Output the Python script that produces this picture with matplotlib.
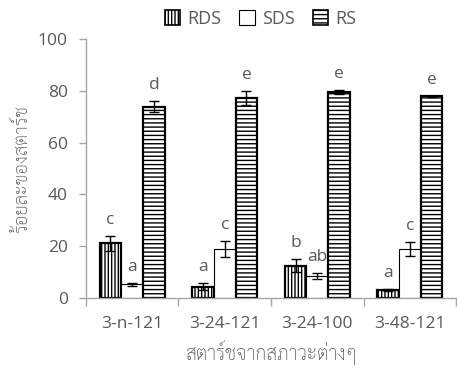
import numpy as np
import matplotlib
matplotlib.use("Agg")
import matplotlib.pyplot as plt
from matplotlib.patches import Patch

plt.rcParams['font.family'] = ['Open Sans', 'DejaVu Sans']
plt.rcParams['hatch.linewidth'] = 1.0
thai = ['Sarabun', 'Noto Sans Thai Looped', 'Noto Sans Thai', 'DejaVu Sans']

# ข้อมูล
samples = ['3-n-121', '3-24-121', '3-24-100', '3-48-121']
rds = [21.1, 4.4, 12.5, 3.1]
rds_err = [2.9, 1.3, 2.6, 0.3]
sds = [5.3, 18.9, 8.6, 18.9]
sds_err = [0.6, 3.2, 1.2, 2.8]
rs = [73.9, 77.3, 79.6, 77.9]
rs_err = [2.1, 2.6, 0.8, 0.3]
rds_lab = ['c', 'a', 'b', 'a']
sds_lab = ['a', 'c', 'ab', 'c']
rs_lab = ['d', 'e', 'e', 'e']

txt = '#595959'
grey = '#a6a6a6'
fs = 12.5
w = 0.235
x = np.arange(len(samples))

fig = plt.figure(figsize=(4.57, 3.76), dpi=100)
ax = fig.add_axes([0.188, 0.2074, 0.81, 0.6886])

ekw = dict(ecolor='black', elinewidth=1.0, capsize=3.5, capthick=1.0)
ax.bar(x - w, rds, w, yerr=rds_err, color='white', edgecolor='black',
       linewidth=1.6, hatch='|||||', error_kw=ekw, zorder=2)
ax.bar(x, sds, w, yerr=sds_err, color='white', edgecolor='black',
       linewidth=0.8, error_kw=ekw, zorder=2)
ax.bar(x + w, rs, w, yerr=rs_err, color='white', edgecolor='black',
       linewidth=1.6, hatch='----', error_kw=ekw, zorder=2)

# ตัวอักษรแสดงความแตกต่างทางสถิติ
for off, vals, errs, labs in [(-w, rds, rds_err, rds_lab),
                              (0, sds, sds_err, sds_lab),
                              (w, rs, rs_err, rs_lab)]:
    for i in range(len(samples)):
        ax.text(x[i] + off, vals[i] + errs[i] + 3.0, labs[i], ha='center',
                va='bottom', fontsize=fs, color=txt)

ax.set_xlim(-0.5, len(samples) - 0.5)
ax.set_ylim(0, 100)
ax.set_yticks(range(0, 101, 20))
ax.set_xticks(x)
ax.set_xticklabels(samples)
ax.set_xticks(np.arange(-0.5, len(samples)), minor=True)
ax.tick_params(axis='x', which='major', length=0, pad=13, labelsize=fs, labelcolor=txt)
ax.tick_params(axis='x', which='minor', length=6, color=grey, width=1)
ax.tick_params(axis='y', length=5, color=grey, width=1, pad=8, labelsize=fs, labelcolor=txt)
for s in ['top', 'right']:
    ax.spines[s].set_visible(False)
for s in ['left', 'bottom']:
    ax.spines[s].set_color(grey)
    ax.spines[s].set_linewidth(1)

ax.set_ylabel('ร้อยละของสตาร์ช', family=thai, fontweight='light', fontsize=13.5,
              color=txt, labelpad=5)
ax.set_xlabel('สตาร์ชจากสภาวะต่างๆ', family=thai, fontweight='light', fontsize=14,
              color=txt, labelpad=6)

handles = [Patch(facecolor='white', edgecolor='black', linewidth=1.2, hatch='|||||'),
           Patch(facecolor='white', edgecolor='black', linewidth=0.8),
           Patch(facecolor='white', edgecolor='black', linewidth=1.2, hatch='----')]
fig.legend(handles, ['RDS', 'SDS', 'RS'], loc='center', bbox_to_anchor=(0.57, 0.95),
           ncol=3, frameon=False, fontsize=13, labelcolor=txt,
           handlelength=0.85, handleheight=0.85, handletextpad=0.4, columnspacing=1.0)

fig.savefig('out.png')
